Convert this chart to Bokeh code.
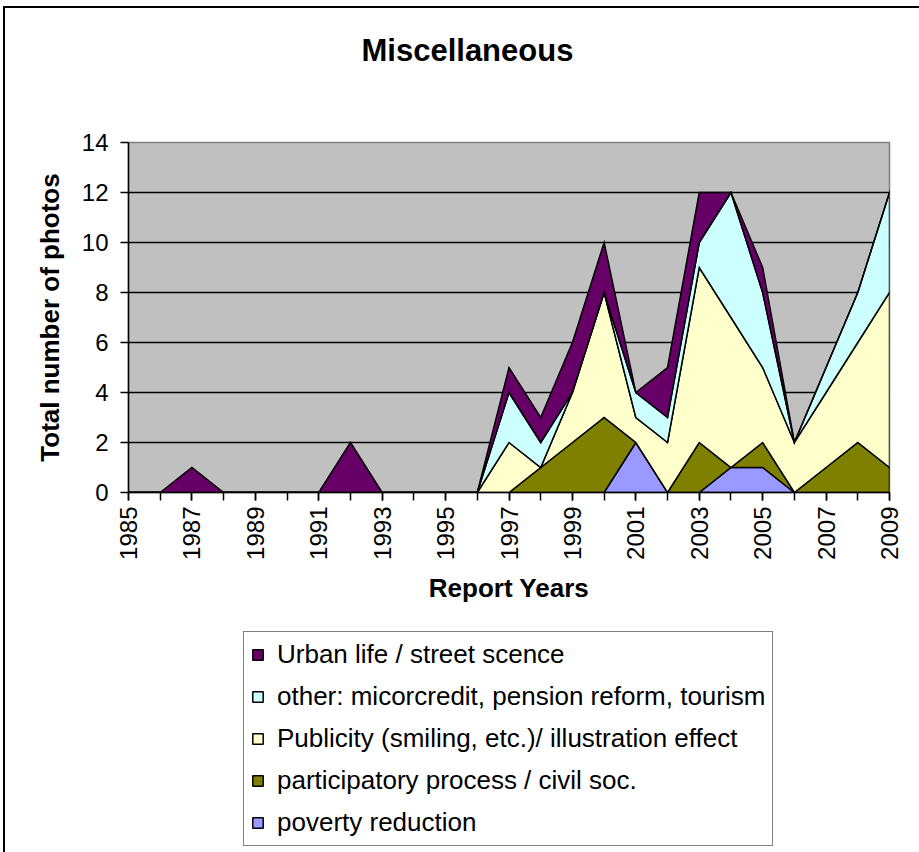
import math
from bokeh.plotting import figure
from bokeh.layouts import column
from bokeh.models import (ColumnDataSource, FixedTicker, Legend, LegendItem, Range1d, Title)
from bokeh.embed import file_html
from bokeh.resources import INLINE

years = list(range(1985, 2010))
label_years = list(range(1985, 2010, 2))
y_ticks = [0, 2, 4, 6, 8, 10, 12, 14]

# series values per year 1985..2009
poverty = [0, 0, 0, 0, 0, 0, 0, 0, 0, 0, 0, 0, 0, 0, 0, 0, 2, 0, 0, 1, 1, 0, 0, 0, 0]
participatory = [0, 0, 0, 0, 0, 0, 0, 0, 0, 0, 0, 0, 0, 1, 2, 3, 0, 0, 2, 0, 1, 0, 1, 2, 1]
publicity = [0, 0, 0, 0, 0, 0, 0, 0, 0, 0, 0, 0, 2, 0, 2, 5, 1, 2, 7, 6, 3, 2, 3, 4, 7]
other = [0, 0, 0, 0, 0, 0, 0, 0, 0, 0, 0, 0, 2, 1, 0, 0, 1, 1, 1, 5, 3, 0, 1, 2, 4]
urban = [0, 0, 1, 0, 0, 0, 0, 2, 0, 0, 0, 0, 1, 1, 2, 2, 0, 2, 2, 0, 1, 0, 0, 0, 0]

series_names = [
    "poverty reduction",
    "participatory process / civil soc.",
    "Publicity (smiling, etc.)/ illustration effect",
    "other: micorcredit, pension reform, tourism",
    "Urban life / street scence",
]
series_values = [poverty, participatory, publicity, other, urban]
series_colors = ["#9999FF", "#808000", "#FFFFCC", "#CCFFFF", "#660066"]

FONT = "Liberation Sans"

p = figure(width=914, height=620, output_backend="svg", toolbar_location=None,
           x_range=Range1d(1985, 2009), y_range=Range1d(0, 14),
           min_border_left=123, min_border_right=30, min_border_top=134,
           min_border_bottom=136, title=None)
p.background_fill_color = "#C0C0C0"
p.border_fill_color = "white"
p.outline_line_color = "#808080"
p.outline_line_width = 1.5

# title: spacer first (closest to the frame), then the real title above it
p.add_layout(Title(text=" ", text_font_size="1px", standoff=72), "above")
p.add_layout(Title(text="Miscellaneous", text_font=FONT, text_font_size="31px",
                   text_font_style="bold", text_color="black", align="left",
                   offset=233, standoff=0), "above")

# stacked areas
sources = []
bottom = [0] * len(years)
for name, vals, col in zip(series_names, series_values, series_colors):
    top = [b + v for b, v in zip(bottom, vals)]
    src = ColumnDataSource(dict(x=years + years[::-1], y=top + bottom[::-1]))
    sources.append(src)
    p.patch("x", "y", source=src, fill_color=col, line_color="black",
            line_width=1.5, line_join="miter")
    bottom = top

# axes
p.xaxis.ticker = FixedTicker(ticks=label_years, minor_ticks=years)
p.yaxis.ticker = FixedTicker(ticks=y_ticks)
for ax in (p.xaxis, p.yaxis):
    ax.axis_line_color = "black"
    ax.axis_line_width = 1.5
    ax.major_tick_line_color = "black"
    ax.major_tick_line_width = 1.5
    ax.major_tick_in = 0
    ax.major_tick_out = 8
    ax.minor_tick_line_color = "black"
    ax.minor_tick_line_width = 1.5
    ax.minor_tick_in = 0
    ax.minor_tick_out = 8
    ax.major_label_text_font = FONT
    ax.major_label_text_font_size = "24px"
    ax.major_label_text_color = "black"
    ax.axis_label_text_font = FONT
    ax.axis_label_text_font_size = "26px"
    ax.axis_label_text_font_style = "bold"
    ax.axis_label_text_color = "black"
p.yaxis.minor_tick_line_color = None
p.xaxis.major_label_orientation = math.pi / 2
p.xaxis.major_label_standoff = 6
p.yaxis.major_label_standoff = 12
p.xaxis.axis_label = "Report Years"
p.yaxis.axis_label = "Total number of photos"
p.xaxis.axis_label_standoff = 10
p.yaxis.axis_label_standoff = 14

p.xgrid.grid_line_color = None
p.ygrid.ticker = FixedTicker(ticks=y_ticks)
p.ygrid.grid_line_color = "black"
p.ygrid.grid_line_width = 1.5

# legend in its own panel below the chart (same series, drawn out of view)
pl = figure(width=914, height=224, output_backend="svg", toolbar_location=None,
            x_range=Range1d(0, 1), y_range=Range1d(0, 1),
            x_axis_location=None, y_axis_location=None, min_border=0)
pl.outline_line_color = None
pl.grid.visible = False
pl.background_fill_color = "white"
pl.border_fill_color = "white"
leg_renderers = {}
for name, col, src in zip(series_names, series_colors, sources):
    leg_renderers[name] = pl.patch("x", "y", source=src, fill_color=col,
                                   line_color="black", line_width=1.5)
items = [LegendItem(label=n, renderers=[leg_renderers[n]]) for n in series_names[::-1]]
legend = Legend(items=items, location=(115, 6))
legend.label_text_font = FONT
legend.label_text_font_size = "26px"
legend.label_text_color = "black"
legend.glyph_width = 13
legend.glyph_height = 13
legend.label_standoff = 13
legend.padding = 7
legend.spacing = 11
legend.label_height = 30
legend.margin = 0
legend.border_line_color = "black"
legend.border_line_width = 1.5
legend.background_fill_color = "white"
legend.background_fill_alpha = 1
pl.add_layout(legend, "center")

layout = column(p, pl, spacing=0)
layout.styles = {"border-left": "2px solid black", "border-top": "2px solid black",
                 "margin-left": "3px", "margin-top": "6px"}

open("out.html", "w").write(file_html(layout, INLINE))
